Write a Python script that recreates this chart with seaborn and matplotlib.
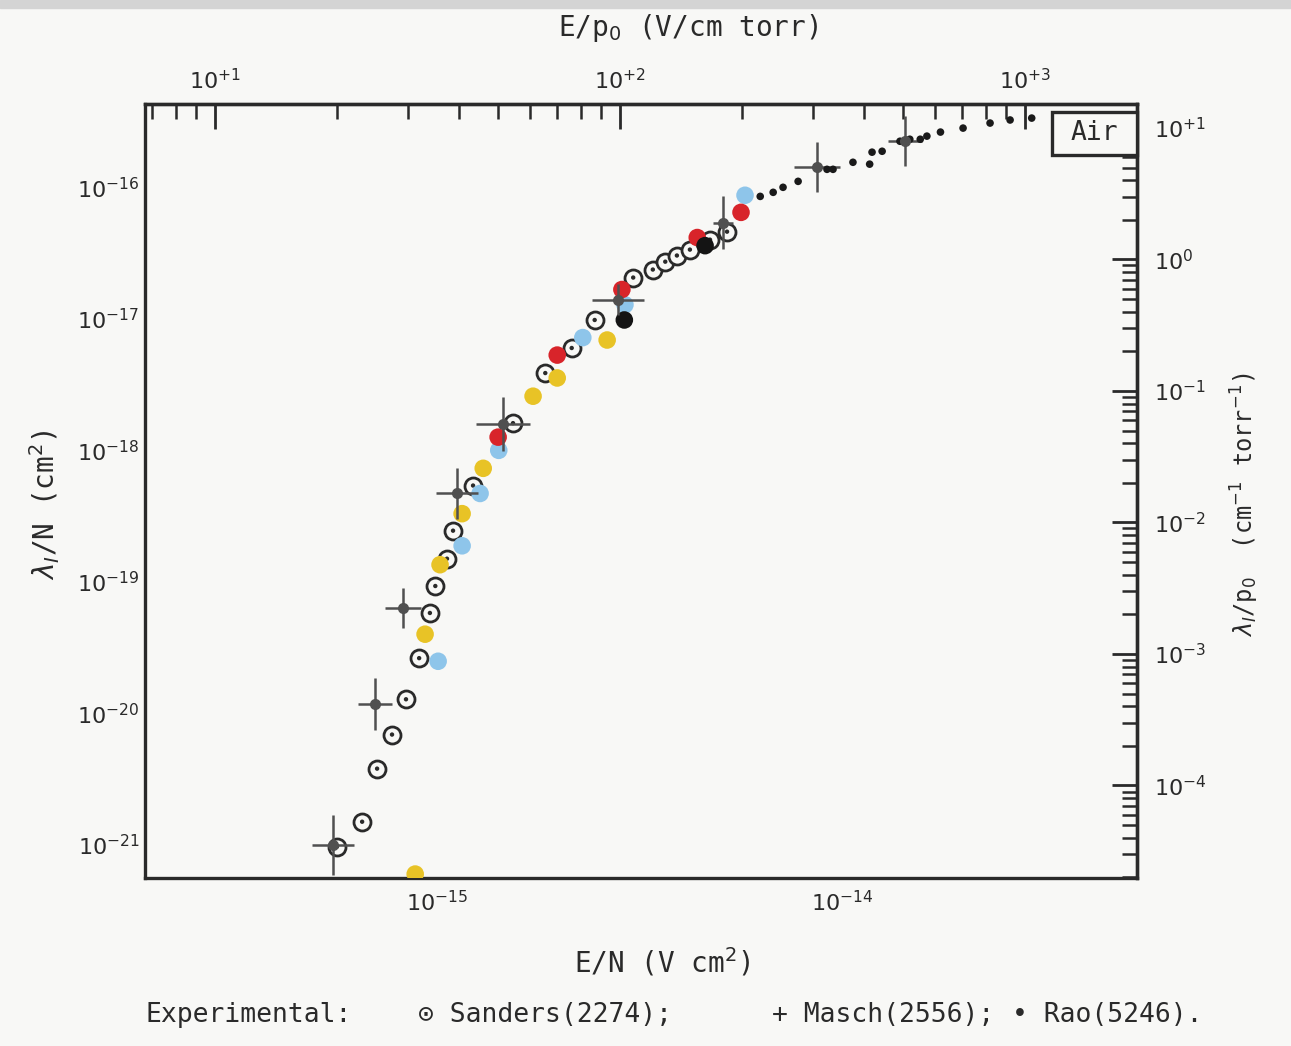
import numpy as np
import pandas as pd
import matplotlib
matplotlib.use('Agg')
import matplotlib.pyplot as plt
import matplotlib.ticker as mticker
from matplotlib.patches import Rectangle
import seaborn as sns

# E/N (V cm^2) and lambda_I/N (cm^2)
sanders_en = [5.66e-16, 6.53e-16, 7.11e-16, 7.74e-16, 8.38e-16, 9.03e-16, 9.6e-16, 9.9e-16,
              1.058e-15, 1.095e-15, 1.227e-15, 1.54e-15, 1.85e-15, 2.15e-15, 2.45e-15,
              3.05e-15, 3.41e-15, 3.66e-15, 3.91e-15, 4.21e-15, 4.72e-15, 5.2e-15]
sanders_lam = [9.7e-22, 1.5e-21, 3.8e-21, 6.9e-21, 1.28e-20, 2.63e-20, 5.8e-20, 9.3e-20,
               1.5e-19, 2.45e-19, 5.4e-19, 1.61e-18, 3.87e-18, 6.0e-18, 9.8e-18,
               2.06e-17, 2.37e-17, 2.72e-17, 3.03e-17, 3.36e-17, 4.0e-17, 4.6e-17]

masch_en = [5.54e-16, 7.03e-16, 8.24e-16, 1.12e-15, 1.455e-15, 2.8e-15, 5.08e-15, 8.67e-15, 1.43e-14]
masch_lam = [1.0e-21, 1.17e-20, 6.3e-20, 4.7e-19, 1.58e-18, 1.4e-17, 5.4e-17, 1.42e-16, 2.24e-16]
masch_dx = [0.052, 0.042, 0.044, 0.052, 0.067, 0.064, 0.025, 0.057, 0.042]  # decades
masch_dy = [0.229, 0.198, 0.153, 0.191, 0.206, 0.115, 0.198, 0.191, 0.191]  # decades

rao_en = [6.28e-15, 6.76e-15, 7.15e-15, 7.79e-15, 9.18e-15, 9.5e-15, 1.064e-14, 1.17e-14,
          1.186e-14, 1.256e-14, 1.39e-14, 1.47e-14, 1.56e-14, 1.62e-14, 1.75e-14,
          1.99e-14, 2.32e-14, 2.6e-14, 2.94e-14]
rao_lam = [8.53e-17, 9.16e-17, 1.0e-16, 1.11e-16, 1.37e-16, 1.37e-16, 1.55e-16, 1.5e-16,
           1.85e-16, 1.88e-16, 2.24e-16, 2.32e-16, 2.32e-16, 2.45e-16, 2.63e-16,
           2.82e-16, 3.08e-16, 3.25e-16, 3.36e-16]

# hand-coloured points added on the scan
yellow_en = [8.83e-16, 9.34e-16, 1.017e-15, 1.153e-15, 1.3e-15, 1.726e-15, 1.98e-15, 2.63e-15]
yellow_lam = [6.0e-22, 4.0e-20, 1.35e-19, 3.3e-19, 7.3e-19, 2.58e-18, 3.55e-18, 6.9e-18]
blue_en = [1.006e-15, 1.153e-15, 1.277e-15, 1.42e-15, 2.29e-15, 2.91e-15, 5.76e-15]
blue_lam = [2.49e-20, 1.88e-19, 4.7e-19, 1.0e-18, 7.2e-18, 1.28e-17, 8.7e-17]
red_en = [1.415e-15, 1.98e-15, 2.86e-15, 4.39e-15, 5.63e-15]
red_lam = [1.26e-18, 5.3e-18, 1.67e-17, 4.15e-17, 6.45e-17]
black_en = [2.9e-15, 4.59e-15]
black_lam = [9.8e-18, 3.6e-17]

# decade ticks shown on each axis
en_ticks = [1e-15, 1e-14]
lam_ticks = [1e-21, 1e-20, 1e-19, 1e-18, 1e-17, 1e-16]
ep_ticks = [1e1, 1e2, 1e3]
lp_ticks = [1e-4, 1e-3, 1e-2, 1e-1, 1e0, 1e1]

N0 = 3.535e16  # cm^-3 at 1 torr, 0 C

ink = '#2a2a2a'
paper = '#f8f8f6'
mono = 'DejaVu Sans Mono'

sns.set_style('white')
plt.rcParams['font.family'] = ['DejaVu Sans']
plt.rcParams['mathtext.fontset'] = 'dejavusans'

fig = plt.figure(figsize=(12.91, 10.46), dpi=100, facecolor=paper)
ax = fig.add_axes([145 / 1291, 1 - 878 / 1046, (1137 - 145) / 1291, (878 - 104) / 1046])
ax.set_facecolor(paper)
ax.set_xscale('log')
ax.set_yscale('log')
ax.set_xlim(1.90e-16, 5.35e-14)
ax.set_ylim(5.6e-22, 4.3e-16)

fig.patches.append(Rectangle((0, 1 - 8 / 1046), 1, 8 / 1046, transform=fig.transFigure,
                             color='#d4d4d4', zorder=0))

# Sanders: circle with centre dot
sns.scatterplot(x=sanders_en, y=sanders_lam, ax=ax, marker='o', s=150, color=paper,
                edgecolor=ink, linewidth=2.0, zorder=3)
sns.scatterplot(x=sanders_en, y=sanders_lam, ax=ax, marker='o', s=10, color=ink,
                edgecolor='none', zorder=3)

# coloured points
col = pd.DataFrame({
    'en': yellow_en + blue_en + red_en + black_en,
    'lam': yellow_lam + blue_lam + red_lam + black_lam,
    'set': ['yellow'] * len(yellow_en) + ['blue'] * len(blue_en)
           + ['red'] * len(red_en) + ['black'] * len(black_en),
})
pal = {'yellow': '#e8c326', 'blue': '#8ec5ea', 'red': '#d8242a', 'black': '#141414'}
sns.scatterplot(data=col, x='en', y='lam', hue='set', palette=pal, ax=ax, s=160,
                edgecolor='none', legend=False, zorder=4)

# Masch: crosses with error bars
men = np.array(masch_en)
mlam = np.array(masch_lam)
xerr = [men - men * 10 ** -np.array(masch_dx), men * 10 ** np.array(masch_dx) - men]
yerr = [mlam - mlam * 10 ** -np.array(masch_dy), mlam * 10 ** np.array(masch_dy) - mlam]
ax.errorbar(men, mlam, xerr=xerr, yerr=yerr, fmt='o', ms=7, color='#505050',
            elinewidth=1.8, capsize=0, zorder=5)

# Rao: small dots
sns.scatterplot(x=rao_en, y=rao_lam, ax=ax, marker='o', s=30, color='#1a1a1a',
                edgecolor='none', zorder=5)

ax.set_xlabel('')
ax.set_ylabel('')


def pow_fmt(v, pos):
    e = int(round(np.log10(v)))
    if e > 0:
        return r'$10^{+%d}$' % e
    if e == 0:
        return r'$10^{0}$'
    return r'$10^{%d}$' % e


def style_axis(axis, ticks):
    axis.set_major_locator(mticker.FixedLocator(ticks))
    axis.set_minor_locator(mticker.LogLocator(base=10, subs=np.arange(2, 10), numticks=20))
    axis.set_minor_formatter(mticker.NullFormatter())
    axis.set_major_formatter(mticker.FuncFormatter(pow_fmt))


for sp in ax.spines.values():
    sp.set_linewidth(2.4)
    sp.set_color(ink)

ax.tick_params(which='both', direction='in', top=False, right=False, color=ink,
               labelcolor=ink, labelsize=16)
ax.tick_params(which='major', length=18, width=2.0)
ax.tick_params(which='minor', length=11, width=1.8)
ax.tick_params(axis='x', pad=9)
ax.tick_params(axis='y', pad=4)
style_axis(ax.xaxis, en_ticks)
style_axis(ax.yaxis, lam_ticks)

# E/p0 on top, lambda/p0 on the right
top = ax.secondary_xaxis('top', functions=(lambda x: x * N0, lambda x: x / N0))
right = ax.secondary_yaxis('right', functions=(lambda y: y * N0, lambda y: y / N0))
for sec, axis, ticks in ((top, top.xaxis, ep_ticks), (right, right.yaxis, lp_ticks)):
    style_axis(axis, ticks)
    sec.tick_params(which='both', direction='in', color=ink, labelcolor=ink, labelsize=16)
    sec.tick_params(which='major', length=18, width=2.0)
    sec.tick_params(which='minor', length=11, width=1.8)
    for sp in sec.spines.values():
        sp.set_linewidth(2.4)
        sp.set_color(ink)
top.tick_params(pad=8)
right.tick_params(pad=12)

# Air box
ax.add_patch(Rectangle((0.914, 0.934), 0.086, 0.056, transform=ax.transAxes, fc=paper,
                       ec=ink, lw=2.4, zorder=6, clip_on=False))
ax.text(0.957, 0.962, 'Air', transform=ax.transAxes, ha='center', va='center',
        fontsize=19, family=mono, color=ink, zorder=7)

fig.text(688 / 1291, 1 - 28 / 1046, r'E/p$_0$ (V/cm torr)', ha='center', va='center',
         fontsize=20, family=mono, color=ink)
fig.text(662 / 1291, 1 - 962 / 1046, r'E/N (V cm$^2$)', ha='center', va='center',
         fontsize=20, family=mono, color=ink)
fig.text(45 / 1291, 1 - 505 / 1046, r'$\lambda_I$/N (cm$^2$)', ha='center', va='center',
         rotation=90, fontsize=20, family=mono, color=ink)
fig.text(1245 / 1291, 1 - 505 / 1046, r'$\lambda_I$/p$_0$  (cm$^{-1}$ torr$^{-1}$)',
         ha='center', va='center', rotation=90, fontsize=17, family=mono, color=ink)

leg_y = 1 - 1015 / 1046
fig.text(145 / 1291, leg_y, 'Experimental:', ha='left', va='center', fontsize=19,
         family=mono, color=ink)
fig.text(418 / 1291, leg_y, '\u2299 Sanders(2274);', ha='left', va='center', fontsize=19,
         family=mono, color=ink)
fig.text(772 / 1291, leg_y, '+ Masch(2556);', ha='left', va='center', fontsize=19,
         family=mono, color=ink)
fig.text(1012 / 1291, leg_y, '\u2022 Rao(5246).', ha='left', va='center', fontsize=19,
         family=mono, color=ink)

fig.savefig('out.png', dpi=100, facecolor=paper)
